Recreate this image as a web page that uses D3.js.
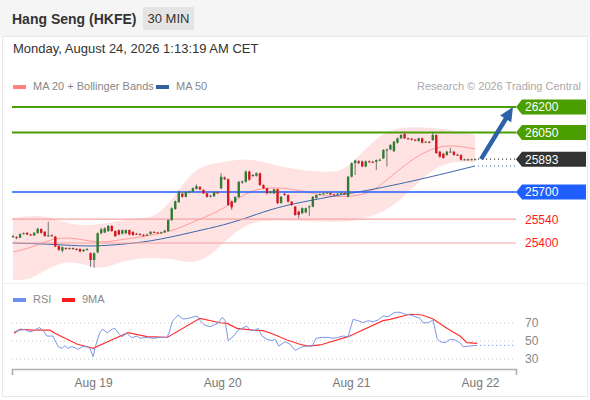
<!DOCTYPE html>
<html>
<head>
<meta charset="utf-8">
<script src="https://cdn.jsdelivr.net/npm/d3@7"></script>
<style>
body { margin: 0; background: #fff; font-family: "Liberation Sans", Arial, sans-serif; }
</style>
</head>
<body>
<svg id="chart" width="590" height="400"></svg>
<script>
// 30 min candles, [open, high, low, close]
var candles = [
  [25438,25448,25430,25440],[25435,25440,25422,25430],[25432,25457,25428,25452],[25455,25462,25450,25458],
  [25460,25465,25446,25450],[25450,25455,25443,25448],[25445,25464,25441,25460],[25458,25490,25455,25483],
  [25482,25486,25455,25460],[25466,25470,25436,25441],[25443,25525,25436,25445],[25445,25452,25438,25443],
  [25438,25442,25375,25380],[25382,25386,25352,25360],[25355,25380,25345,25375],[25370,25375,25362,25368],
  [25368,25374,25362,25370],[25370,25374,25360,25365],[25365,25370,25356,25362],[25365,25368,25345,25350],
  [25352,25364,25347,25360],[25360,25370,25355,25365],[25340,25345,25260,25300],[25300,25345,25255,25340],
  [25345,25462,25340,25458],[25458,25490,25450,25480],[25462,25492,25458,25486],[25470,25506,25465,25500],
  [25500,25506,25466,25470],[25470,25475,25436,25440],[25475,25480,25445,25450],[25455,25480,25450,25475],
  [25458,25480,25452,25476],[25476,25480,25445,25450],[25465,25470,25442,25447],[25455,25460,25448,25453],
  [25452,25458,25446,25450],[25448,25452,25438,25444],[25446,25455,25440,25450],[25453,25470,25450,25466],
  [25465,25470,25458,25464],[25462,25466,25455,25460],[25460,25467,25455,25463],[25463,25478,25460,25472],
  [25470,25540,25466,25535],[25535,25610,25530,25604],[25600,25650,25595,25645],[25640,25708,25636,25702],
  [25690,25698,25666,25672],[25672,25704,25668,25700],[25698,25708,25692,25702],[25702,25728,25698,25722],
  [25718,25745,25714,25735],[25730,25735,25710,25715],[25712,25716,25688,25692],[25692,25696,25666,25672],
  [25675,25684,25668,25678],[25675,25705,25670,25700],[25698,25705,25690,25695],[25722,25810,25718,25790],
  [25785,25792,25770,25775],[25775,25780,25618,25624],[25645,25650,25595,25610],[25640,25675,25635,25670],
  [25670,25765,25665,25760],[25755,25768,25748,25762],[25760,25826,25755,25820],[25820,25826,25766,25772],
  [25795,25805,25788,25800],[25795,25815,25790,25810],[25810,25814,25736,25741],[25741,25745,25716,25722],
  [25722,25726,25686,25692],[25695,25706,25690,25702],[25692,25720,25688,25716],[25716,25720,25628,25634],
  [25636,25676,25630,25672],[25690,25694,25678,25682],[25682,25686,25638,25643],[25643,25646,25618,25624],
  [25614,25618,25560,25565],[25585,25590,25545,25565],[25575,25610,25570,25605],[25580,25608,25575,25605],
  [25612,25622,25560,25615],[25614,25676,25610,25672],[25665,25686,25660,25682],[25685,25692,25680,25688],
  [25690,25696,25684,25692],[25693,25702,25688,25697],[25695,25698,25680,25685],[25686,25690,25678,25684],
  [25686,25694,25680,25690],[25690,25698,25685,25694],[25694,25698,25686,25692],[25673,25795,25668,25790],
  [25790,25875,25785,25869],[25870,25890,25800,25885],[25880,25888,25864,25870],[25880,25885,25845,25850],
  [25850,25886,25845,25880],[25880,25886,25872,25878],[25878,25884,25870,25875],[25877,25892,25829,25888],
  [25886,25896,25882,25890],[25898,25952,25894,25947],[25945,25956,25850,25950],[25950,25982,25946,25976],
  [25940,26000,25935,25996],[25990,26020,25985,26016],[26016,26040,26012,26035],[26041,26055,26012,26016],
  [26016,26020,26008,26014],[26014,26018,26002,26008],[26008,26012,25998,26004],[26000,26020,25996,26016],
  [26016,26020,25985,25990],[25994,26000,25988,25996],[25996,26000,25986,25992],[26006,26050,26000,26035],
  [26035,26040,25924,25929],[25937,25942,25902,25908],[25925,25930,25895,25900],[25918,25942,25912,25937],
  [25935,25960,25930,25938],[25937,25942,25912,25918],[25920,25925,25912,25917],[25917,25922,25884,25890],
  [25890,25896,25886,25892],[25892,25896,25886,25890],[25890,25896,25886,25893],[25893,25897,25889,25893]
];

// MA 20 + Bollinger bands, read at these candle indexes
var bandIdx   = [0, 5, 10, 15, 20, 25, 30, 36, 41, 46, 51, 56, 61, 67, 74, 81, 88, 93, 97, 101, 105, 110, 115, 120, 125, 131];
var bandUpper = [25547,25559,25559,25518,25500,25512,25530,25547,25553,25682,25829,25865,25882,25900,25859,25829,25818,25818,25888,25976,26047,26082,26082,26076,26065,26035];
var bandLower = [25182,25182,25253,25294,25277,25241,25288,25312,25312,25306,25277,25324,25429,25524,25535,25530,25524,25524,25530,25553,25582,25653,25759,25847,25882,25876];
var ma20      = [25347,25371,25418,25435,25418,25400,25418,25435,25453,25476,25524,25565,25618,25712,25730,25712,25677,25671,25677,25694,25753,25841,25918,25965,25976,25953];

var ma50Idx = [0, 10, 19, 25, 39, 51, 60, 67, 75, 85, 94, 100, 115, 131];
var ma50    = [25400,25394,25382,25382,25406,25465,25506,25553,25612,25653,25688,25706,25771,25853];

// RSI and its 9 period average, [candle index, value]
var rsi = [
  [0.3,60.3],[2,62],[3.4,63],[4.8,60],[6.2,62],[7.4,65],[8.5,62],[9.6,55.5],[11.3,55.5],[12.8,43.7],
  [13.9,41.8],[14.7,44.8],[15.6,41.8],[16.7,43.7],[17.6,42.6],[18.4,40.7],[19.6,43.7],[21,43.7],[21.8,41.8],
  [22.7,32.6],[23.5,45.6],[24.7,60.3],[25.5,63],[26.7,59],[28.1,63],[28.9,64],[29.8,59],[30.9,54.8],
  [32.3,58.5],[33.7,53.7],[35.2,55.5],[36,53],[38,54],[39.7,53],[41.7,54],[43.7,54],[44.5,62],[45.1,71.4],
  [45.9,75],[46.8,79],[48.2,74.4],[49.3,75],[50.8,76.3],[52.2,77.8],[53,73],[54.2,67.8],[55.9,65.9],
  [57.3,68.5],[58.1,69.6],[59.3,76.3],[60.1,73],[61,50.4],[62.4,54.8],[63.8,62],[64.9,64],[66.3,66.7],
  [67.2,62],[68.6,62],[69.5,64],[70.6,55.5],[72,51.9],[73.4,50.4],[74.3,51.9],[75.4,44.4],[77.1,49.2],
  [78.5,46.7],[80,39.5],[81.9,43.7],[83.4,44.4],[84.8,44.4],[85.9,53],[87.6,54],[89.3,54],[90.7,53],
  [92.1,54],[93.6,55.5],[95,54.8],[96.4,74.1],[97.8,72.6],[99.2,70.4],[100.7,72.6],[102.1,71.4],
  [103.5,73.3],[104.9,77.8],[106.3,77],[108.3,81.9],[109.7,81.9],[111.1,80],[112.6,78.9],[114,77],
  [115.4,75.2],[116.2,70.3],[117.7,70.3],[119.1,73.3],[120.2,53],[121.1,49.2],[122.5,48.1],[123.9,51.9],
  [125.3,51.1],[126.7,48.1],[127.6,43.7],[129.6,44.4],[131.6,45.2]
];
var rsiMa = [
  [0.3,58.5],[2,63],[5.7,62],[10.5,62],[11.9,58.5],[18.1,46.7],[22.7,41.8],[28.4,51.9],[32.6,59.2],
  [38,54.8],[43.7,54],[53,75.2],[58.7,70.3],[60.7,69.6],[63.5,64],[68,62],[70.9,61.5],[73.7,57.8],
  [77.7,51.1],[81.1,46.7],[83.7,44.4],[87.1,45.6],[95,54.8],[104.9,72.6],[106.9,74.1],[112.6,79.7],
  [116,78.9],[119.1,74.4],[123.1,64],[126.7,55.5],[128.7,48.1],[131.6,47.4]
];

var dayLabels = ["Aug 19", "Aug 20", "Aug 21", "Aug 22"];
var dayIdx = [22.7, 59.3, 95.8, 132.4];
var levels = [26200, 26050, 25700, 25540, 25400];
var levelRole = ["res", "res", "piv", "sup", "sup"];
var rsiTicks = [70, 50, 30];
var targetLevel = 26200;

var svg = d3.select("#chart");
var font = '"Liberation Sans", Arial, sans-serif';

var x = d3.scaleLinear().domain([-0.28, 142.6]).range([12, 516]);
var y = d3.scaleLinear().domain([25400, 26200]).range([243, 107]);
var yr = d3.scaleLinear().domain([30, 70]).range([359, 323]);
var xEnd = x.range()[1];

// frame
svg.append("rect").attr("x", 0).attr("y", 0).attr("width", 590).attr("height", 36).style("fill", "#f5f5f5");
svg.append("rect").attr("x", 2.5).attr("y", 36.5).attr("width", 585).attr("height", 360)
    .style("fill", "#fff").style("stroke", "#e8e8e8");
svg.append("line").attr("x1", 3).attr("x2", 587).attr("y1", 283.5).attr("y2", 283.5)
    .style("stroke", "#eeeeee");

// header
svg.append("text").attr("x", 12).attr("y", 24).text("Hang Seng (HKFE)")
    .style("font-family", font).style("font-size", "14px").style("font-weight", "bold").style("fill", "#333");
svg.append("rect").attr("x", 143).attr("y", 7).attr("width", 51).attr("height", 23).style("fill", "#e4e4e4");
svg.append("text").attr("x", 168.5).attr("y", 23).attr("text-anchor", "middle").text("30 MIN")
    .style("font-family", font).style("font-size", "13px").style("fill", "#333");
svg.append("text").attr("x", 13).attr("y", 53).text("Monday, August 24, 2026 1:13:19 AM CET")
    .style("font-family", font).style("font-size", "13px").style("fill", "#333");

// legends
function legendItem(lx, ly, color, label) {
    svg.append("rect").attr("x", lx).attr("y", ly - 5).attr("width", 13).attr("height", 4).style("fill", color);
    svg.append("text").attr("x", lx + 20).attr("y", ly).text(label)
        .style("font-family", font).style("font-size", "11px").style("fill", "#888");
}
legendItem(13, 90, "#ff8080", "MA 20 + Bollinger Bands");
legendItem(156, 90, "#3560a0", "MA 50");
legendItem(13, 303, "#6f8fe8", "RSI");
legendItem(62, 303, "#ff1a1a", "9MA");
svg.append("text").attr("x", 581).attr("y", 90).attr("text-anchor", "end").text("Research \u00a9 2026 Trading Central")
    .style("font-family", font).style("font-size", "11px").style("fill", "#aaa");

// bollinger band fill + MA20
var bandArea = d3.area()
    .x(function (d, i) { return x(bandIdx[i]) })
    .y0(function (d, i) { return y(bandLower[i]) })
    .y1(function (d, i) { return y(bandUpper[i]) })
    .curve(d3.curveBasis);
svg.append("path").datum(bandIdx).attr("d", bandArea).style("fill", "#ffdede").style("opacity", 0.85);

var bandLine = d3.line()
    .x(function (d, i) { return x(bandIdx[i]) })
    .y(function (d) { return y(d) })
    .curve(d3.curveBasis);
svg.append("path").datum(ma20).attr("d", bandLine)
    .style("fill", "none").style("stroke", "#ff9a9a").style("stroke-width", 1);

var ma50Line = d3.line()
    .x(function (d, i) { return x(ma50Idx[i]) })
    .y(function (d) { return y(d) })
    .curve(d3.curveBasis);
svg.append("path").datum(ma50).attr("d", ma50Line)
    .style("fill", "none").style("stroke", "#3a66aa").style("stroke-width", 1);

// horizontal levels
var roleColor = { res: "#4a9e00", piv: "#1f5fff", sup: "#f6a4a4" };
var roleWidth = { res: 2, piv: 1.5, sup: 1.2 };
svg.selectAll(".level")
    .data(levels)
    .enter()
    .append("line")
    .attr("class", "level")
    .attr("x1", x.range()[0])
    .attr("x2", xEnd)
    .attr("y1", function (d) { return y(d) })
    .attr("y2", function (d) { return y(d) })
    .style("stroke", function (d, i) { return roleColor[levelRole[i]] })
    .style("stroke-width", function (d, i) { return roleWidth[levelRole[i]] });

// candles
var bodyW = 2.4;
var cg = svg.append("g");
cg.selectAll(".wick")
    .data(candles)
    .enter()
    .append("line")
    .attr("class", "wick")
    .attr("x1", function (d, i) { return x(i) })
    .attr("x2", function (d, i) { return x(i) })
    .attr("y1", function (d) { return y(d[1]) })
    .attr("y2", function (d) { return y(d[2]) })
    .style("stroke", "#666")
    .style("stroke-width", 0.9);
cg.selectAll(".body")
    .data(candles)
    .enter()
    .append("rect")
    .attr("class", "body")
    .attr("x", function (d, i) { return x(i) - bodyW / 2 })
    .attr("y", function (d) { return y(Math.max(d[0], d[3])) })
    .attr("width", bodyW)
    .attr("height", function (d) { return Math.max(1, Math.abs(y(d[0]) - y(d[3]))) })
    .style("fill", function (d) {
        if (d[3] > d[0]) return "#2e7d32"
        else if (d[3] < d[0]) return "#d9141e"
        else return "#555"
    });

// dotted extensions: last price, MA50
var last = candles.length - 1;
var lastPrice = candles[last][3];
svg.append("line").attr("x1", x(last) + 3).attr("x2", xEnd)
    .attr("y1", y(lastPrice)).attr("y2", y(lastPrice))
    .style("stroke", "#333").style("stroke-width", 1.2).style("stroke-dasharray", "1,3");
svg.append("line").attr("x1", x(ma50Idx[ma50Idx.length - 1]) + 3).attr("x2", xEnd)
    .attr("y1", y(ma50[ma50.length - 1])).attr("y2", y(ma50[ma50.length - 1]))
    .style("stroke", "#3a66aa").style("stroke-width", 1.2).style("stroke-dasharray", "1,3");

// target arrow
var ax0 = x(last) + 6, ay0 = y(lastPrice);
var ax1 = xEnd - 3, ay1 = y(targetLevel);
var len = Math.hypot(ax1 - ax0, ay1 - ay0);
var ux = (ax1 - ax0) / len, uy = (ay1 - ay0) / len;
var headL = 14, headW = 6.5;
var bx = ax1 - ux * headL, by = ay1 - uy * headL;
svg.append("line").attr("x1", ax0).attr("y1", ay0).attr("x2", bx + ux * 2).attr("y2", by + uy * 2)
    .style("stroke", "#2d62a8").style("stroke-width", 4.5);
svg.append("path")
    .attr("d", "M" + ax1 + "," + ay1 + "L" + (bx - uy * headW) + "," + (by + ux * headW) +
        "L" + (bx + uy * headW) + "," + (by - ux * headW) + "Z")
    .style("fill", "#2d62a8");

// price tags
var tagColor = { res: "#4a9e00", piv: "#1f5fff", last: "#333333" };
var tags = levels.map(function (d, i) { return { v: d, role: levelRole[i] } });
tags.push({ v: lastPrice, role: "last" });
var tag = svg.selectAll(".tag").data(tags).enter().append("g").attr("class", "tag");
tag.filter(function (d) { return d.role != "sup" })
    .append("path")
    .attr("d", function (d) {
        var c = y(d.v);
        return "M" + xEnd + "," + c + "L" + (xEnd + 6) + "," + (c - 7.5) + "H586V" + (c + 7.5) + "H" + (xEnd + 6) + "Z"
    })
    .style("fill", function (d) { return tagColor[d.role] });
tag.append("text")
    .attr("x", xEnd + 9)
    .attr("y", function (d) { return y(d.v) })
    .attr("dy", "0.36em")
    .text(function (d) { return d.v })
    .style("font-family", font)
    .style("font-size", "12px")
    .style("fill", function (d) { return d.role == "sup" ? "#ff1a1a" : "#fff" });

// RSI panel
svg.selectAll(".rsigrid")
    .data(rsiTicks)
    .enter()
    .append("line")
    .attr("class", "rsigrid")
    .attr("x1", x.range()[0])
    .attr("x2", xEnd)
    .attr("y1", function (d) { return yr(d) })
    .attr("y2", function (d) { return yr(d) })
    .style("stroke", "#c8c8c8")
    .style("stroke-dasharray", "1,3");

var rsiLine = d3.line()
    .x(function (d) { return x(d[0]) })
    .y(function (d) { return yr(d[1]) });
svg.append("path").datum(rsiMa).attr("d", rsiLine)
    .style("fill", "none").style("stroke", "#ff3030").style("stroke-width", 1.2);
svg.append("path").datum(rsi).attr("d", rsiLine)
    .style("fill", "none").style("stroke", "#7b98ea").style("stroke-width", 1);
var rsiLast = rsi[rsi.length - 1];
svg.append("line").attr("x1", x(rsiLast[0]) + 3).attr("x2", xEnd)
    .attr("y1", yr(rsiLast[1])).attr("y2", yr(rsiLast[1]))
    .style("stroke", "#7b98ea").style("stroke-width", 1.2).style("stroke-dasharray", "1,3");

var rAxis = svg.append("g").attr("transform", "translate(" + (xEnd + 4) + ",0)")
    .call(d3.axisRight(yr).tickValues(rsiTicks).tickSize(0).tickPadding(5));
rAxis.select(".domain").remove();
rAxis.selectAll("text").style("font-family", font).style("font-size", "12px").style("fill", "#888");

// time axis
var xAxis = svg.append("g").attr("transform", "translate(0,369)")
    .call(d3.axisBottom(x).tickValues(dayIdx)
        .tickFormat(function (d, i) { return dayLabels[i] })
        .tickSizeInner(0).tickSizeOuter(6).tickPadding(9.5));
xAxis.select(".domain").style("stroke", "#b0b0b0").style("stroke-width", 1.6);
xAxis.selectAll("text").style("font-family", font).style("font-size", "12px").style("fill", "#777");
</script>
</body>
</html>
